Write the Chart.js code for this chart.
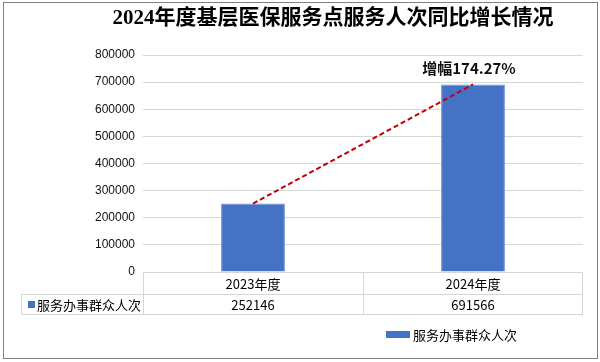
<!DOCTYPE html>
<html>
<head>
<meta charset="utf-8">
<script src="https://cdn.jsdelivr.net/npm/chart.js@4/dist/chart.umd.min.js"></script>
<style>
  html, body { margin: 0; padding: 0; background: #fff; }
  #wrap { width: 600px; height: 362px; position: relative; }
</style>
</head>
<body>
<div id="wrap"><canvas id="grafico"></canvas></div>
<script>
// datos del grafico
const titulo = '2024年度基层医保服务点服务人次同比增长情况';
const categorias = ['2023年度', '2024年度'];
const serieNombre = '服务办事群众人次';
const valores = [252146, 691566];
const incremento = '增幅174.27%';
const ticksY = [0, 100000, 200000, 300000, 400000, 500000, 600000, 700000, 800000];

const azul = '#4472C4';
const fuenteCJK = '"Noto Sans CJK SC", "Liberation Sans", sans-serif';

// dibuja titulo, tabla de datos, leyenda, etiqueta y marco
const extras = {
  id: 'extras',
  afterDraw(chart) {
    const ctx = chart.ctx;
    const x = chart.scales.x;
    const y = chart.scales.y;
    const area = chart.chartArea;
    ctx.save();

    // titulo
    ctx.fillStyle = '#000';
    ctx.font = 'bold 21px "Liberation Serif", "Noto Sans CJK SC", serif';
    ctx.textAlign = 'center';
    ctx.textBaseline = 'middle';
    ctx.fillText(titulo, 333, 19);

    // etiqueta de incremento sobre la segunda barra
    const cx = x.getPixelForValue(1);
    ctx.fillStyle = '#fff';
    ctx.fillRect(cx - 56, 57, 126, 24);
    ctx.fillStyle = '#111';
    ctx.font = 'bold 15px "Noto Sans CJK SC", "Liberation Sans", sans-serif';
    ctx.fillText(incremento, cx - 4, 68);

    // tabla de datos
    const top = y.getPixelForValue(0);
    const fila1 = top + 22;
    const fila2 = top + 42;
    const izq = area.left;
    const der = area.right;
    const medio = (x.getPixelForValue(0) + x.getPixelForValue(1)) / 2;
    const etiquetaIzq = 21;
    ctx.strokeStyle = '#d6d6d6';
    ctx.lineWidth = 1;
    ctx.beginPath();
    ctx.moveTo(izq, top + 0.5); ctx.lineTo(der, top + 0.5);
    ctx.moveTo(etiquetaIzq, fila1 + 0.5); ctx.lineTo(der, fila1 + 0.5);
    ctx.moveTo(etiquetaIzq, fila2 + 0.5); ctx.lineTo(der, fila2 + 0.5);
    ctx.moveTo(izq + 0.5, top); ctx.lineTo(izq + 0.5, fila2);
    ctx.moveTo(Math.round(medio) + 0.5, top); ctx.lineTo(Math.round(medio) + 0.5, fila2);
    ctx.moveTo(der - 0.5, top); ctx.lineTo(der - 0.5, fila2);
    ctx.moveTo(etiquetaIzq + 0.5, fila1); ctx.lineTo(etiquetaIzq + 0.5, fila2);
    ctx.stroke();

    ctx.fillStyle = '#000';
    ctx.font = '13px ' + fuenteCJK;
    ctx.textAlign = 'center';
    categorias.forEach((c, i) => {
      const px = x.getPixelForValue(i);
      ctx.fillText(c, px, (top + fila1) / 2 + 1);
      ctx.fillText(String(valores[i]), px, (fila1 + fila2) / 2 + 1);
    });
    ctx.fillStyle = azul;
    ctx.fillRect(28, (fila1 + fila2) / 2 - 3, 7, 7);
    ctx.fillStyle = '#000';
    ctx.textAlign = 'left';
    ctx.fillText(serieNombre, 37, (fila1 + fila2) / 2 + 1);

    // leyenda
    ctx.fillStyle = azul;
    ctx.fillRect(386, 331, 24, 7);
    ctx.fillStyle = '#000';
    ctx.fillText(serieNombre, 413, 335);

    // marco exterior
    ctx.strokeStyle = '#808080';
    ctx.lineWidth = 1;
    ctx.strokeRect(3.5, 2.5, 594, 356);
    ctx.restore();
  }
};

let miCanvas = document.getElementById('grafico').getContext('2d');

let grafico = new Chart(miCanvas, {
  data: {
    labels: categorias,
    datasets: [
      {
        type: 'line',
        label: incremento,
        data: valores,
        borderColor: '#c00000',
        borderWidth: 2,
        borderDash: [5, 3],
        pointRadius: 0,
        fill: false,
        order: 0
      },
      {
        type: 'bar',
        label: serieNombre,
        data: valores,
        backgroundColor: azul,
        borderColor: '#6b8fd6',
        borderWidth: 1,
        categoryPercentage: 1,
        barPercentage: 0.29,
        order: 1
      }
    ]
  },
  options: {
    responsive: true,
    maintainAspectRatio: false,
    animation: false,
    layout: { padding: { left: 0, right: 17, top: 55, bottom: 90 } },
    plugins: {
      legend: { display: false },
      title: { display: false },
      tooltip: { enabled: false }
    },
    scales: {
      x: { display: false, offset: true },
      y: {
        min: 0,
        max: 800000,
        afterFit(scale) { scale.width = 143; },
        afterBuildTicks(scale) { scale.ticks = ticksY.map(v => ({ value: v })); },
        border: { display: false },
        grid: {
          drawTicks: false,
          color: (c) => c.tick.value === 0 ? 'rgba(0,0,0,0)' : '#cfdbd3'
        },
        ticks: {
          padding: 8,
          color: '#111',
          font: { family: '"Liberation Sans", sans-serif', size: 12 },
          callback: (v) => String(v)
        }
      }
    }
  },
  plugins: [extras]
});
</script>
</body>
</html>
